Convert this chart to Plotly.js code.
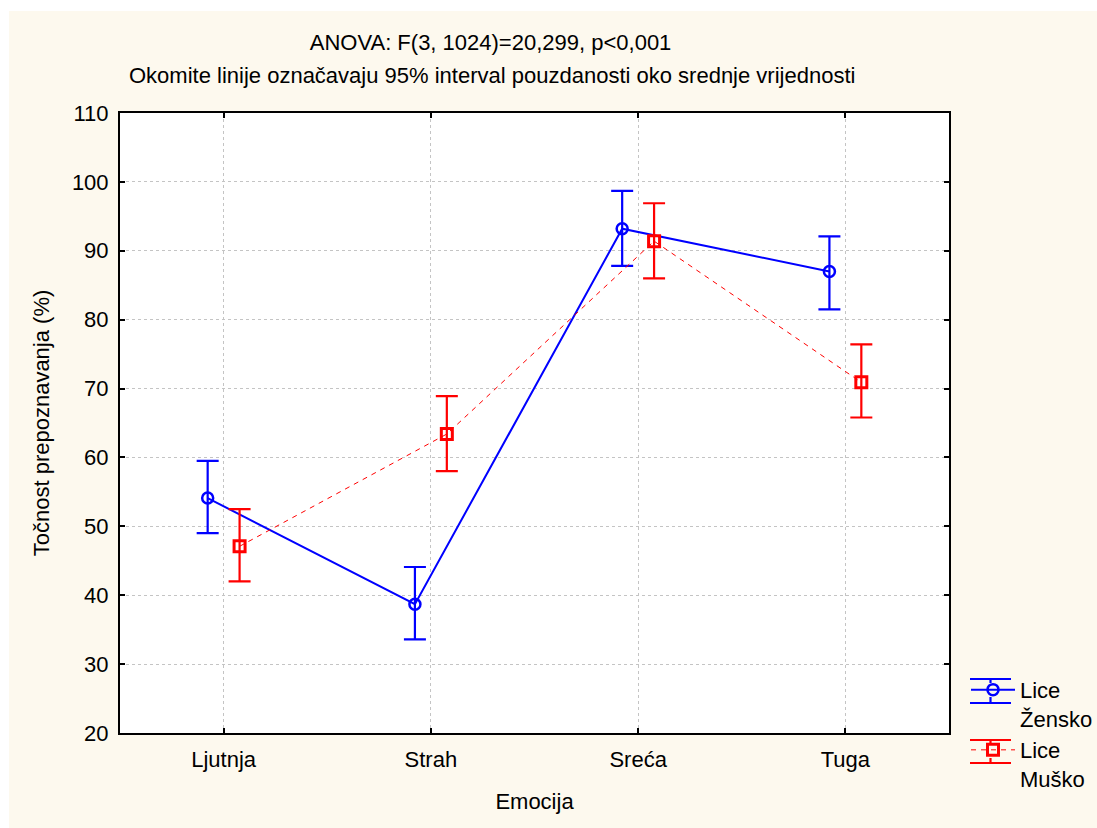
<!DOCTYPE html>
<html>
<head>
<meta charset="utf-8">
<script src="https://cdn.plot.ly/plotly-3.0.1.min.js"></script>
<style>
  html, body { margin: 0; padding: 0; background: #ffffff; }
  #chart { position: absolute; left: 9px; top: 11px; width: 1088px; height: 817px; }
</style>
</head>
<body>
<div id="chart"></div>
<script>
// ---- data ----
const categories = ['Ljutnja', 'Strah', 'Sreća', 'Tuga'];
const yTicks = [20, 30, 40, 50, 60, 70, 80, 90, 100, 110];

const zenskoMean = [54.1, 38.7, 93.2, 87.0];
const zenskoLow  = [49.0, 33.6, 87.8, 81.5];
const zenskoHigh = [59.5, 44.1, 98.7, 92.1];

const muskoMean = [47.1, 63.4, 91.4, 70.9];
const muskoLow  = [42.0, 58.0, 86.0, 65.8];
const muskoHigh = [52.5, 68.9, 96.9, 76.4];

const titleLine1 = 'ANOVA: F(3, 1024)=20,299, p<0,001';
const titleLine2 = 'Okomite linije označavaju 95% interval pouzdanosti oko srednje vrijednosti';
const xTitle = 'Emocija';
const yTitle = 'Točnost prepoznavanja (%)';
const nameZ = 'Lice<br>Žensko';
const nameM = 'Lice<br>Muško';

// ---- layout helpers ----
const OFFSET = 0.077;
const idx = categories.map((c, i) => i);
const xZ = idx.map(i => i - OFFSET);
const xM = idx.map(i => i + OFFSET);
const plus = (hi, m) => hi.map((v, i) => v - m[i]);
const minus = (lo, m) => lo.map((v, i) => m[i] - v);

const FONT = 'Liberation Sans, Arial, sans-serif';
const FS = 22;
const BLUE = '#0000FF';
const RED = '#FF0000';

const traces = [
  {
    x: xZ, y: zenskoMean, name: nameZ, type: 'scatter', mode: 'lines+markers',
    line: { color: BLUE, width: 2 },
    marker: { symbol: 'circle-open', size: 11, color: BLUE, line: { width: 2.5, color: BLUE } },
    error_y: { type: 'data', symmetric: false, array: plus(zenskoHigh, zenskoMean),
               arrayminus: minus(zenskoLow, zenskoMean), color: BLUE, thickness: 2.2, width: 11 },
    cliponaxis: false
  },
  {
    x: xM, y: muskoMean, name: nameM, type: 'scatter', mode: 'lines+markers',
    line: { color: RED, width: 1, dash: '5px,5px' },
    marker: { symbol: 'square-open', size: 11, color: RED, line: { width: 3, color: RED } },
    error_y: { type: 'data', symmetric: false, array: plus(muskoHigh, muskoMean),
               arrayminus: minus(muskoLow, muskoMean), color: RED, thickness: 2.2, width: 11 },
    cliponaxis: false
  }
];

// legend error-bar decorations (paper coordinates: page px -> paper)
const px = v => (v - 120) / 829;
const py = v => (733 - v) / 620;
function legendBars(color, yc, yTop, yBot, gap) {
  const seg = (x0, y0, x1, y1) => ({ type: 'line', xref: 'paper', yref: 'paper',
    x0: px(x0), y0: py(y0), x1: px(x1), y1: py(y1), line: { color: color, width: 2.2 } });
  return [
    seg(970, yTop, 1011, yTop), seg(970, yBot, 1011, yBot),
    seg(990.5, yTop, 990.5, yc - gap), seg(990.5, yc + gap, 990.5, yBot)
  ];
}

const layout = {
  width: 1088, height: 817,
  paper_bgcolor: '#FDF9EE', plot_bgcolor: '#FFFFFF',
  margin: { l: 111, r: 148, t: 102, b: 95, pad: 0 },
  font: { family: FONT, size: FS, color: '#000000' },
  showlegend: true,
  title: { text: titleLine1, font: { family: FONT, size: FS, color: '#000' },
           xref: 'paper', x: 0.447, xanchor: 'center', yref: 'container', y: 1 - 31/817, yanchor: 'middle' },
  annotations: [
    { text: titleLine2, xref: 'paper', yref: 'paper', x: 0.449, y: 1 + 38/620,
      xanchor: 'center', yanchor: 'middle', showarrow: false, font: { family: FONT, size: FS, color: '#000' } }
  ],
  shapes: [].concat(legendBars(BLUE, 690, 679, 703, 7), legendBars(RED, 751, 740, 763, 7)),
  xaxis: {
    range: [-0.5, 3.5], tickmode: 'array', tickvals: idx, ticktext: categories,
    showgrid: true, gridcolor: '#C4C4C4', griddash: '3px,3px', gridwidth: 1,
    zeroline: false, showline: true, linecolor: '#000', linewidth: 2, mirror: 'ticks',
    ticks: 'inside', ticklen: 5, tickcolor: '#000', tickwidth: 2,
    tickfont: { family: FONT, size: FS }, ticklabelstandoff: 6,
    title: { text: xTitle, font: { family: FONT, size: FS }, standoff: 22 }
  },
  yaxis: {
    range: [20, 110], tickmode: 'array', tickvals: yTicks,
    showgrid: true, gridcolor: '#C4C4C4', griddash: '3px,3px', gridwidth: 1,
    zeroline: false, showline: true, linecolor: '#000', linewidth: 2, mirror: 'ticks',
    ticks: 'inside', ticklen: 5, tickcolor: '#000', tickwidth: 2,
    tickfont: { family: FONT, size: FS }, ticklabelstandoff: 5,
    title: { text: yTitle, font: { family: FONT, size: FS }, standoff: 16 }
  },
  legend: {
    xref: 'container', x: 957 / 1088, xanchor: 'left', y: 0.1035, yanchor: 'top', itemwidth: 44,
    bgcolor: 'rgba(0,0,0,0)', borderwidth: 0, valign: 'top',
    font: { family: FONT, size: FS, color: '#000' }
  }
};

Plotly.newPlot('chart', traces, layout, { displayModeBar: false, staticPlot: true });
</script>
</body>
</html>
